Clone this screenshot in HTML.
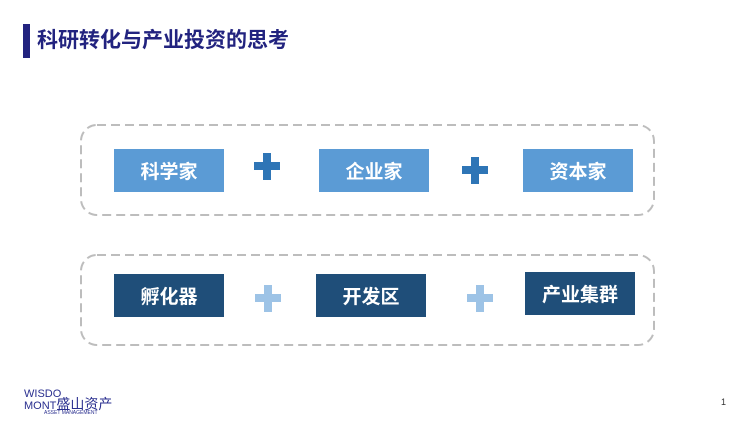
<!DOCTYPE html>
<html><head><meta charset="utf-8"><style>
body{margin:0;width:750px;height:422px;background:#fff;position:relative;overflow:hidden;font-family:"Liberation Sans","Noto Sans CJK SC",sans-serif}
.a{position:absolute}
.b{position:absolute;color:#fff;font-weight:bold;font-size:19px;display:flex;align-items:center;justify-content:center;width:110px;height:43px}
.l{background:#5b9bd5}.d{background:#1f4e79}
</style></head><body>
<div class="a" style="left:23px;top:24px;width:7px;height:34px;background:#22237f"></div>
<div class="a" style="left:37px;top:27px;font-size:21px;font-weight:bold;color:#22237f;line-height:28px">科研转化与产业投资的思考</div>
<svg class="a" style="left:0;top:0" width="750" height="422">
<g fill="none" stroke="#bdbdbd" stroke-width="2" stroke-dasharray="9,5">
<rect x="81" y="125" width="573" height="90" rx="16"/>
<rect x="81" y="255" width="573" height="90" rx="16"/>
</g>
<g fill="#2e75b6"><rect x="254" y="162" width="26" height="8"/><rect x="263" y="153" width="8" height="27"/>
<rect x="462" y="166" width="26" height="8"/><rect x="471" y="157" width="8" height="27"/></g>
<g fill="#9dc3e6"><rect x="255" y="294" width="26" height="8"/><rect x="264" y="285" width="8" height="27"/>
<rect x="467" y="294" width="26" height="8"/><rect x="476" y="285" width="8" height="27"/></g>
</svg>
<div class="b l" style="left:114px;top:149px">科学家</div>
<div class="b l" style="left:319px;top:149px">企业家</div>
<div class="b l" style="left:523px;top:149px">资本家</div>
<div class="b d" style="left:114px;top:274px">孵化器</div>
<div class="b d" style="left:316px;top:274px">开发区</div>
<div class="b d" style="left:525px;top:272px">产业集群</div>
<div class="a" style="left:24px;top:389px;color:#2a2f8f;font-size:11px;line-height:10px">WISDO<br>MONT<span style="font-size:14px">盛山资产</span></div>
<div class="a" style="left:44px;top:410px;color:#2a2f8f;font-size:5px">ASSET MANAGEMENT</div>
<div class="a" style="left:721px;top:397px;font-size:9px;color:#333">1</div>
</body></html>
